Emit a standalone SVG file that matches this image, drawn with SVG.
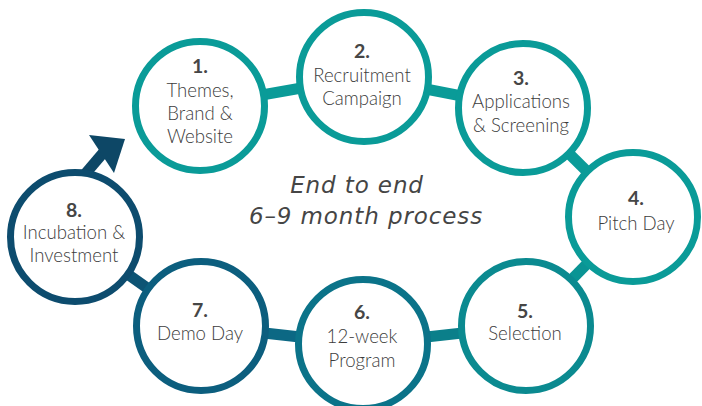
<svg xmlns="http://www.w3.org/2000/svg" width="702" height="406" viewBox="0 0 702 406">
<style>
.ring{fill:#fff;stroke-width:7}
.num{font-family:Lato,"Liberation Sans",sans-serif;font-weight:bold;font-size:19.5px;fill:#464646;text-anchor:middle}
.lbl{font-family:Lato,"Liberation Sans",sans-serif;font-weight:300;font-size:18.6px;fill:#3c3c3c;text-anchor:middle}
.ctr{font-family:"DejaVu Sans","Open Sans",sans-serif;font-style:italic;font-size:23px;letter-spacing:0.9px;fill:#454545;text-anchor:middle}
.con line{stroke-width:11}
</style>
<rect width="702" height="406" fill="#fff"/>
<g id="connectors" class="con">
<line x1="200" y1="106" x2="364" y2="77" stroke="#0A9B98"/>
<line x1="364" y1="77" x2="523" y2="108" stroke="#0A9B98"/>
<line x1="523" y1="108" x2="633" y2="217" stroke="#0A9B98"/>
<line x1="633" y1="217" x2="526" y2="326" stroke="#0A9494"/>
<line x1="526" y1="326" x2="363" y2="344" stroke="#0B7F8A"/>
<line x1="363" y1="344" x2="201" y2="326" stroke="#0C6884"/>
<line x1="201" y1="326" x2="75" y2="237" stroke="#0D5474"/>
<line x1="80" y1="180" x2="103" y2="153" stroke="#0D4766" stroke-width="13"/>
<polygon points="89,135 125,139 114,173" fill="#0D4766"/>
</g>
<g id="n1"><circle class="ring" cx="200" cy="106" r="64.5" stroke="#0A9B98"/>
<text class="num" x="200" y="73">1.</text>
<text class="lbl" x="200" y="97">Themes,</text>
<text class="lbl" x="200" y="120">Brand &amp;</text>
<text class="lbl" x="200" y="143">Website</text></g>
<g id="n2"><circle class="ring" cx="364" cy="77" r="64.5" stroke="#0A9B98"/>
<text class="num" x="362" y="58">2.</text>
<text class="lbl" x="362" y="82">Recruitment</text>
<text class="lbl" x="362" y="105">Campaign</text></g>
<g id="n3"><circle class="ring" cx="523" cy="108" r="64.5" stroke="#0A9B98"/>
<text class="num" x="521" y="85">3.</text>
<text class="lbl" x="521" y="108">Applications</text>
<text class="lbl" x="521" y="132">&amp; Screening</text></g>
<g id="n4"><circle class="ring" cx="633" cy="217" r="64.5" stroke="#0A9B98"/>
<text class="num" x="636" y="205">4.</text>
<text class="lbl" x="636" y="230">Pitch Day</text></g>
<g id="n5"><circle class="ring" cx="526" cy="326" r="64.5" stroke="#0B8A90"/>
<text class="num" x="525" y="318">5.</text>
<text class="lbl" x="525" y="340">Selection</text></g>
<g id="n6"><circle class="ring" cx="363" cy="344" r="64.5" stroke="#0B7389"/>
<text class="num" x="362" y="319">6.</text>
<text class="lbl" x="362" y="343">12-week</text>
<text class="lbl" x="362" y="367">Program</text></g>
<g id="n7"><circle class="ring" cx="201" cy="326" r="64.5" stroke="#0C5E7E"/>
<text class="num" x="200" y="317">7.</text>
<text class="lbl" x="200" y="340">Demo Day</text></g>
<g id="n8"><circle class="ring" cx="75" cy="237" r="64.5" stroke="#0D4C6E"/>
<text class="num" x="74" y="217">8.</text>
<text class="lbl" x="74" y="239">Incubation &amp;</text>
<text class="lbl" x="74" y="262">Investment</text></g>
<g id="center">
<text class="ctr" x="357" y="193">End to end</text>
<text class="ctr" x="366" y="224">6–9 month process</text>
</g>
</svg>
